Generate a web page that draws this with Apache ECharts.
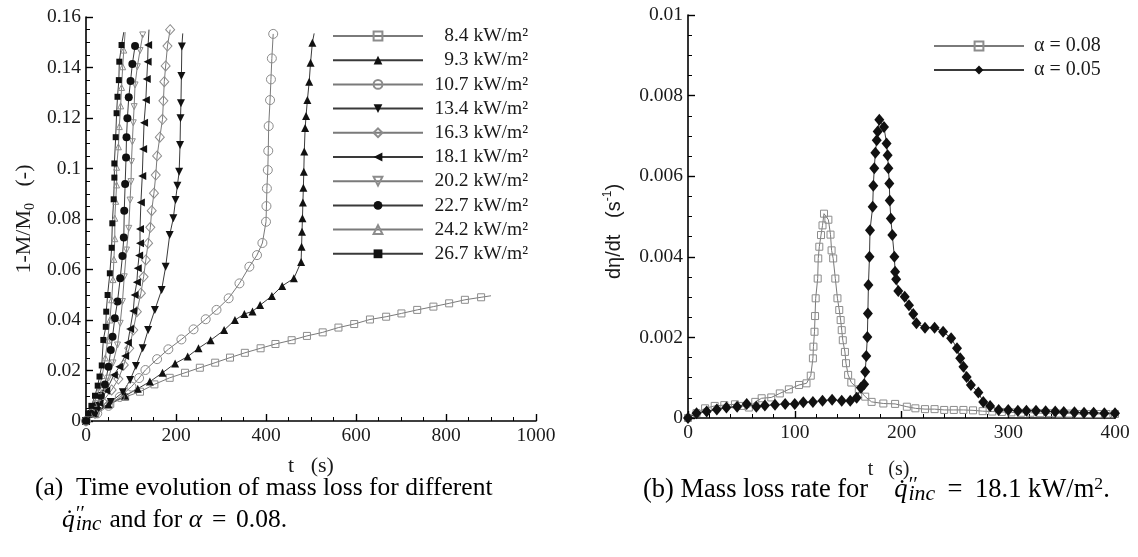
<!DOCTYPE html>
<html><head><meta charset="utf-8">
<script src="https://cdn.jsdelivr.net/npm/echarts@6/dist/echarts.min.js"></script>
<style>html,body{margin:0;padding:0;background:#fff}#c{width:1138px;height:557px}</style>
</head><body><div id="c"></div>
<script>
// ---------- data: left chart (t [s], 1-M/M0) ----------
const leftNames = ['8.4 kW/m²','9.3 kW/m²','10.7 kW/m²','13.4 kW/m²','16.3 kW/m²','18.1 kW/m²','20.2 kW/m²','22.7 kW/m²','24.2 kW/m²','26.7 kW/m²'];
const leftXTicks = [0, 200, 400, 600, 800, 1000];
const leftYTicks = [0, 0.02, 0.04, 0.06, 0.08, 0.1, 0.12, 0.14, 0.16];

const q84 = [[0,0],[21,0.0035],[54,0.0068],[87,0.0095],[120,0.0116],[152,0.0145],[186,0.0171],[220,0.0191],[253,0.0211],[287,0.0231],[320,0.0251],[353,0.027],[388,0.0288],[421,0.0305],[457,0.032],[491,0.0337],[526,0.0351],[561,0.037],[596,0.0384],[631,0.0402],[667,0.0413],[701,0.0426],[736,0.044],[772,0.0453],[807,0.0466],[842,0.048],[878,0.049]];
const q84tail = [[900,0.0496]];
const q93 = [[0,0],[20,0.003],[50,0.0065],[87,0.01],[115,0.0128],[142,0.0156],[170,0.0191],[198,0.0228],[226,0.0255],[250,0.0288],[277,0.032],[307,0.036],[331,0.04],[352,0.0424],[370,0.0434],[387,0.0459],[413,0.0495],[436,0.0535],[462,0.0565],[478,0.063],[479,0.069],[480,0.075],[481,0.0803],[482,0.0865],[483,0.0924],[484,0.0987],[485,0.1067],[487,0.116],[489,0.1208],[492,0.1271],[496,0.1344],[499,0.1419],[503,0.1498]];
const q93tail = [[507,0.1535]];
const q107 = [[0,0],[25,0.003],[50,0.006],[75,0.0095],[101,0.0136],[118,0.017],[132,0.0202],[158,0.0245],[183,0.0284],[212,0.0323],[239,0.0363],[266,0.0403],[290,0.044],[317,0.0486],[341,0.0545],[363,0.0611],[380,0.0657],[392,0.0705],[400,0.0789],[401,0.0851],[402,0.0921],[404,0.0994],[405,0.107],[406,0.1168],[409,0.1271],[411,0.1353],[413,0.1436],[416,0.1533]];
const q134 = [[0,0],[25,0.004],[55,0.0075],[82,0.0114],[98,0.0162],[111,0.0218],[126,0.0288],[138,0.036],[153,0.044],[168,0.0519],[177,0.0611],[186,0.0737],[194,0.0803],[199,0.0875],[203,0.0932],[207,0.0987],[209,0.1093],[210,0.1199],[211,0.1258],[212,0.1366],[213,0.1483]];
const q134tail = [[215,0.1535]];
const q163 = [[0,0],[20,0.003],[37,0.0077],[57,0.0123],[72,0.0166],[84,0.0222],[96,0.0288],[105,0.036],[113,0.0433],[122,0.0506],[128,0.0571],[133,0.0638],[138,0.0704],[143,0.0767],[146,0.0833],[151,0.0902],[155,0.0974],[158,0.105],[164,0.1124],[170,0.1195],[172,0.1268],[174,0.1344],[177,0.1406],[181,0.1485],[187,0.155]];
const q181 = [[0,0],[15,0.003],[30,0.007],[45,0.012],[62,0.0182],[74,0.0215],[87,0.0257],[93,0.031],[98,0.0364],[105,0.0436],[108,0.0499],[113,0.055],[115,0.0605],[118,0.0655],[120,0.0704],[120,0.076],[122,0.0865],[125,0.097],[127,0.1077],[129,0.1181],[133,0.1271],[135,0.1354],[137,0.1423],[138,0.1489]];
const q181tail = [[140,0.155]];
const q202 = [[0,0],[12,0.003],[25,0.007],[38,0.012],[50,0.017],[60,0.023],[70,0.0301],[76,0.0387],[81,0.0473],[85,0.0571],[90,0.0677],[95,0.0763],[98,0.0875],[100,0.0948],[101,0.1027],[103,0.1106],[105,0.1181],[107,0.1245],[109,0.1331],[114,0.1403],[120,0.1467],[126,0.1529]];
const q227 = [[0,0],[10,0.003],[22,0.006],[33,0.01],[42,0.0145],[50,0.0215],[55,0.0281],[59,0.0334],[64,0.0407],[70,0.0473],[76,0.0565],[81,0.0653],[84,0.0727],[85,0.0833],[87,0.0939],[89,0.1044],[90,0.1124],[92,0.1199],[95,0.1282],[99,0.1347],[103,0.1414],[109,0.1485]];
const q242 = [[0,0],[8,0.003],[18,0.007],[28,0.012],[36,0.018],[43,0.025],[48,0.032],[53,0.04],[57,0.048],[60,0.056],[62,0.064],[64,0.0722],[64,0.0803],[66,0.087],[68,0.0935],[68,0.1005],[72,0.1086],[74,0.1166],[77,0.1248],[79,0.1321],[81.5,0.1403],[84,0.1469]];
const q242tail = [[87,0.154]];
const q267 = [[0,0],[5,0.003],[12,0.006],[20,0.01],[26,0.014],[30,0.0176],[35,0.022],[38.5,0.0321],[44,0.0373],[45,0.0433],[48,0.0499],[53,0.0585],[57,0.0686],[58.5,0.0783],[61.5,0.0878],[63,0.0964],[63,0.102],[66,0.1124],[68,0.1219],[70,0.1284],[73,0.135],[74,0.1423],[79,0.1489]];
const q267tail = [[84,0.154]];

// ---------- data: right chart (t [s], dη/dt [1/s]) ----------
const rightNames = ['α = 0.08', 'α = 0.05'];
const rightXTicks = [0, 100, 200, 300, 400];
const rightYTicks = [0, 0.002, 0.004, 0.006, 0.008, 0.01];
const a008 = [[0,0],[8,0.00012],[16,0.00024],[25,0.0003],[34,0.00032],[44,0.00034],[50,0.0003],[57,0.00026],[63,0.0004],[69,0.00049],[78,0.00051],[86,0.00061],[94.5,0.00071],[104,0.00082],[111,0.00086],[115,0.00105],[117,0.00148],[117.5,0.00177],[118.5,0.00214],[119,0.00253],[119.6,0.00297],[121.5,0.00346],[122,0.00396],[123,0.00425],[124.6,0.00454],[126,0.00478],[127.4,0.00507],[131.5,0.00492],[133.5,0.00455],[134.5,0.00416],[136,0.00396],[138,0.00346],[140,0.00297],[141.7,0.00268],[143,0.00243],[144,0.00218],[145,0.00193],[147,0.00164],[148,0.00136],[150,0.00107],[153,0.00088],[160,0.00071],[166,0.00053],[172,0.0004],[183,0.00036],[194,0.00035],[205,0.00028],[213,0.00024],[222,0.00022],[231,0.00022],[240,0.0002],[249,0.0002],[258,0.0002],[267,0.00019],[276,0.00017],[285,0.00016],[294,0.00015],[303,0.00014],[312,0.00013],[321,0.00013],[330,0.00012],[339,0.00012],[348,0.00011],[357,0.00011],[366,0.0001],[375,0.0001],[384,0.0001],[392,0.0001],[400,0.0001]];
const a005 = [[0,0],[8,0.00012],[17.5,0.00016],[27,0.00021],[36,0.00026],[46,0.00028],[55,0.00035],[64,0.00028],[72,0.00031],[81.5,0.00033],[91,0.00035],[100,0.00035],[108,0.00039],[117,0.0004],[126,0.00043],[135,0.00045],[144,0.00043],[152,0.00043],[158,0.0005],[162,0.00075],[165,0.00084],[166,0.00115],[167,0.00154],[168,0.00201],[168.5,0.00259],[169,0.0033],[170,0.004],[170.5,0.00466],[173,0.00524],[173.6,0.00576],[174.5,0.0062],[175.5,0.00658],[176.8,0.00689],[177.7,0.00711],[179.2,0.0074],[183.6,0.00722],[186,0.00681],[187,0.00652],[187.7,0.0062],[188.6,0.00582],[189,0.0054],[190,0.00495],[191.4,0.00454],[193.3,0.004],[194,0.00363],[195,0.00344],[197,0.00315],[203,0.00301],[207,0.0028],[211,0.00258],[214,0.00235],[222,0.00224],[231,0.00224],[239,0.00214],[246.5,0.00198],[252,0.00173],[255,0.00148],[258,0.00127],[261,0.00102],[265,0.00082],[272,0.00063],[276.6,0.0004],[283,0.0003],[291,0.0002],[300,0.0002],[309,0.00018],[317,0.00018],[326,0.00018],[335,0.00017],[344,0.00016],[352,0.00015],[362,0.00014],[371,0.00013],[380,0.00013],[390,0.00012],[400,0.00012]];

// ---------- styling ----------
const SERIF = '"Liberation Serif", "Times New Roman", serif';
const SANS = '"Liberation Sans", Arial, sans-serif';
const GRAY = '#8c8c8c';
const BLACK = '#111';
const LDARK = '#3a3a3a';
const LGRAY = '#7a7a7a';

function mk(name, pts, tail, o, xi) {
  const data = pts.map(p => p.slice());
  (tail || []).forEach(p => data.push({ value: p.slice(), symbol: 'none' }));
  return {
    name, type: 'line', xAxisIndex: xi, yAxisIndex: xi, data,
    symbol: o.symbol, symbolSize: o.size, symbolRotate: o.rot || 0,
    showSymbol: true, showAllSymbol: true, clip: false,
    lineStyle: { color: o.hollow ? LGRAY : LDARK, width: 1 },
    itemStyle: o.hollow
      ? { color: 'rgba(255,255,255,0)', borderColor: GRAY, borderWidth: 1 }
      : { color: BLACK, borderWidth: 0 },
    emphasis: { disabled: true }, z: o.z || 2
  };
}

const leftStyles = [
  { symbol: 'rect', size: 7, hollow: true },
  { symbol: 'triangle', size: 8 },
  { symbol: 'circle', size: 9, hollow: true },
  { symbol: 'triangle', size: 8, rot: 180 },
  { symbol: 'diamond', size: [9, 10], hollow: true },
  { symbol: 'triangle', size: 8, rot: 90 },
  { symbol: 'triangle', size: 6, rot: 180, hollow: true },
  { symbol: 'circle', size: 8 },
  { symbol: 'triangle', size: 6, hollow: true },
  { symbol: 'rect', size: 6 }
];
const leftData = [[q84,q84tail],[q93,q93tail],[q107,null],[q134,q134tail],[q163,null],[q181,q181tail],[q202,null],[q227,null],[q242,q242tail],[q267,q267tail]];

const series = leftNames.map((n, i) => mk(n, leftData[i][0], leftData[i][1], leftStyles[i], 0));
series.push(mk(rightNames[0], a008, null, { symbol: 'rect', size: 7, hollow: true }, 1));
series.push(mk(rightNames[1], a005, null, { symbol: 'diamond', size: [10, 12], z: 3 }, 1));

function axisCommon(ticks, minorSplit) {
  return {
    type: 'value', min: ticks[0], max: ticks[ticks.length - 1], interval: ticks[1] - ticks[0],
    axisLine: { show: true, onZero: false, lineStyle: { color: '#000', width: 1.6 } },
    axisTick: { show: true, inside: true, length: 7, lineStyle: { color: '#000', width: 1.4 } },
    minorTick: { show: true, splitNumber: minorSplit, length: 4, lineStyle: { color: '#000', width: 1 } },
    splitLine: { show: false }, minorSplitLine: { show: false },
    axisLabel: { fontFamily: SERIF, fontSize: 19.5, color: '#1a1a1a', margin: 5,
                 showMinLabel: true, showMaxLabel: true,
                 formatter: v => String(parseFloat(v.toPrecision(6))) },
    nameTextStyle: { fontFamily: SERIF, fontSize: 22, color: '#1a1a1a' }
  };
}

const xL = Object.assign(axisCommon(leftXTicks, 4), {
  gridIndex: 0, name: 't   (s)', nameLocation: 'middle', nameGap: 34 });
const yL = Object.assign(axisCommon(leftYTicks, 4), {
  gridIndex: 0, name: '{n|1-M/M}{s|0}{n|   (-)}', nameLocation: 'middle', nameGap: 49, nameRotate: 90 });
yL.nameTextStyle = { fontFamily: SERIF, fontSize: 22, color: '#1a1a1a',
  rich: { n: { fontFamily: SERIF, fontSize: 22, color: '#1a1a1a', lineHeight: 26 },
          s: { fontFamily: SERIF, fontSize: 14, color: '#1a1a1a', lineHeight: 14, verticalAlign: 'bottom' } } };

const xR = Object.assign(axisCommon(rightXTicks, 5), {
  gridIndex: 1, name: 't   (s)', nameLocation: 'middle', nameGap: 42 });
xR.nameTextStyle = { fontFamily: SERIF, fontSize: 20, color: '#1a1a1a', padding: [0, 26, 0, 0] };
const yR = Object.assign(axisCommon(rightYTicks, 4), {
  gridIndex: 1, name: '{n|dη/dt   (s}{s|-1}{n|)}', nameLocation: 'middle', nameGap: 62, nameRotate: 90 });
yR.nameTextStyle = { fontFamily: SANS, fontSize: 20, color: '#1a1a1a', padding: [0, 30, 0, 0],
  rich: { n: { fontFamily: SANS, fontSize: 20, color: '#1a1a1a', lineHeight: 24 },
          s: { fontFamily: SANS, fontSize: 12, color: '#1a1a1a', lineHeight: 12, verticalAlign: 'top' } } };

function capStyles(CF, eW, gW) {
  const k = CF / 25.5;
  return {
    n: { fontFamily: SERIF, fontSize: CF, color: '#111', lineHeight: 30 },
    q: { fontFamily: SERIF, fontSize: CF, color: '#111', lineHeight: 30, fontStyle: 'italic' },
    sp: { fontFamily: SERIF, fontSize: 20 * k, color: '#111', lineHeight: 19, verticalAlign: 'top', fontStyle: 'italic', width: 1 },
    sb: { fontFamily: SERIF, fontSize: 21 * k, color: '#111', lineHeight: 18, verticalAlign: 'bottom', fontStyle: 'italic' },
    s2: { fontFamily: SERIF, fontSize: 17 * k, color: '#111', lineHeight: 21, verticalAlign: 'top' },
    g: { fontFamily: SERIF, fontSize: CF, lineHeight: 30, width: gW },
    e: { fontFamily: SERIF, fontSize: CF, color: '#111', lineHeight: 30, width: eW, align: 'center' }
  };
}
const capA = capStyles(25.5, 34, 8);
const capB = capStyles(26.5, 40, 26);

const option = {
  animation: false,
  backgroundColor: '#fff',
  grid: [
    { left: 86, top: 17, width: 450, height: 404 },
    { left: 688, top: 15, width: 427, height: 403 }
  ],
  xAxis: [xL, xR],
  yAxis: [yL, yR],
  legend: [
    { data: leftNames, orient: 'vertical', left: 327, top: 21, itemWidth: 90, itemHeight: 11, itemGap: 4.2,
      selectedMode: false,
      formatter: n => '{r|' + n + '}',
      textStyle: { fontFamily: SERIF, fontSize: 19.5, color: '#1a1a1a',
        rich: { r: { fontFamily: SERIF, fontSize: 19.5, color: '#1a1a1a', width: 100, align: 'right', lineHeight: 20 } } } },
    { data: rightNames, orient: 'vertical', left: 928, top: 31, itemWidth: 90, itemHeight: 11, itemGap: 4,
      selectedMode: false,
      formatter: n => '{r|' + n + '}',
      textStyle: { fontFamily: SERIF, fontSize: 20, color: '#1a1a1a',
        rich: { r: { fontFamily: SERIF, fontSize: 20, color: '#1a1a1a', lineHeight: 20, padding: [0, 0, 0, 5] } } } }
  ],
  graphic: [
    { type: 'text', left: 35, top: 475, silent: true,
      style: { text: '{n|(a)  Time evolution of mass loss for different}', rich: capA } },
    { type: 'text', left: 62, top: 505, silent: true,
      style: { text: '{q|q\u0307}{sp|\u2032\u2032}{sb|inc}{g| }{n|and for }{q|α}{e|=}{n|0.08.}', rich: capA } },
    { type: 'text', left: 643, top: 475, silent: true,
      style: { text: '{n|(b) Mass loss rate for}{g| }{q|q\u0307}{sp|\u2032\u2032}{sb|inc}{e|=}{n|18.1 kW/m}{s2|2}{n|.}', rich: capB } }
  ],
  series
};

const chart = echarts.init(document.getElementById('c'), null, { renderer: 'canvas' });
chart.setOption(option);
</script>
</body></html>
